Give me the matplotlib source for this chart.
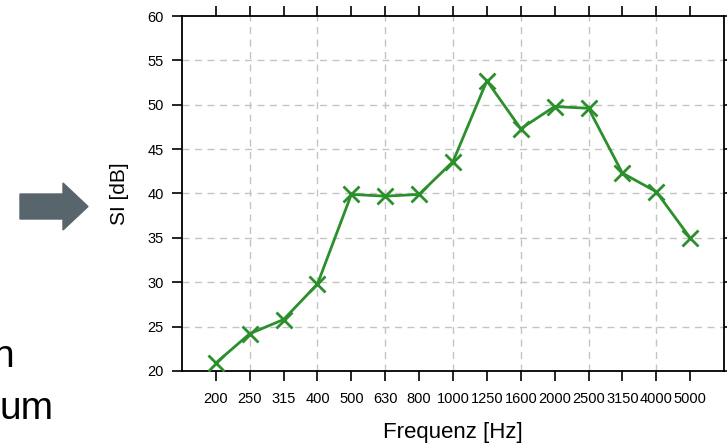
import matplotlib.pyplot as plt
from matplotlib.patches import Polygon
import numpy as np

plt.rcParams['font.family'] = ['Liberation Sans', 'DejaVu Sans']

freqs = ['200', '250', '315', '400', '500', '630', '800', '1000', '1250',
         '1600', '2000', '2500', '3150', '4000', '5000']
si_db = [20.9, 24.2, 25.8, 29.8, 39.9, 39.7, 39.9, 43.6, 52.7,
         47.3, 49.8, 49.6, 42.3, 40.2, 35.0]

fig = plt.figure(figsize=(7.27, 4.46), dpi=100)
ax = fig.add_axes([0.2503, 0.1682, 0.7456, 0.7959])

x = np.arange(len(freqs))
ax.plot(x, si_db, color='#2b8f2b', lw=2, marker='x', ms=11, mew=2, zorder=3)

ax.set_xlim(-1, len(freqs))
ax.set_ylim(20, 60)
ax.set_xticks(x)
ax.set_xticklabels(freqs)
ax.set_yticks(np.arange(20, 61, 5))
ax.tick_params(direction='out', length=7, width=1.2, labelsize=10.5,
               top=True, right=True, pad=8)
ax.tick_params(axis='y', pad=6)
for s in ax.spines.values():
    s.set_linewidth(1.3)

# grid: every 5 dB, every other frequency band
for yv in range(25, 60, 5):
    ax.axhline(yv, color='#c4c4c4', ls=(0, (5, 4)), lw=1, zorder=1)
for xv in x[1::2]:
    ax.axvline(xv, color='#c4c4c4', ls=(0, (5, 4)), lw=1, zorder=1)

ax.set_xlabel('Frequenz [Hz]', fontsize=16, labelpad=12)
ax.set_ylabel('SI [dB]', fontsize=15, labelpad=13)

# leftovers from the slide
arrow = Polygon([[20, 194], [63, 194], [63, 183], [88, 206.5], [63, 230],
                 [63, 219], [20, 219]], closed=True, color='#59656c',
                transform=None)
# convert pixel coords (top-left origin) to figure pixels
arrow.set_xy([[px, 446 - py] for px, py in arrow.get_xy()])
fig.patches.append(arrow)
fig.text(-0.011, 1 - 367 / 446, 'n', fontsize=28, ha='left', va='baseline')
fig.text(0.0, 1 - 419 / 446, 'um', fontsize=28, ha='left', va='baseline')

fig.savefig('out.png', dpi=100)
